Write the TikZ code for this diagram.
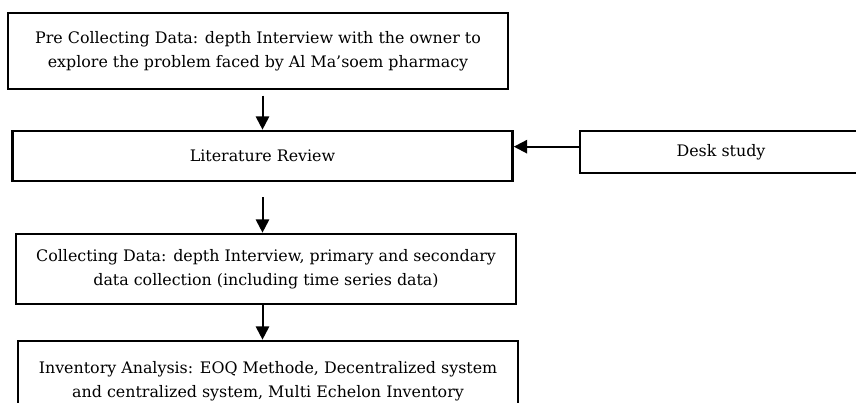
\documentclass[tikz,border=0pt]{standalone}
\usepackage{fontspec}
\setmainfont{DejaVu Serif}
\usetikzlibrary{arrows.meta,positioning}
\tikzset{flow/.style={-{Triangle[length=10pt,width=10pt]}, line width=1.5pt},
  stage/.style={draw, line width=2pt, align=center, minimum width=375pt,
    font=\fontsize{11.9}{18}\selectfont}}

\begin{document}
\begin{tikzpicture}[x=0.75pt,y=-0.75pt]
  \useasboundingbox (0,0) rectangle (856,403);
  % main column of steps
  \node[stage, minimum height=57pt] (pre) at (258,51)
    {Pre Collecting Data: depth Interview with the owner to\\explore the problem faced by Al Ma'soem pharmacy};
  \node[stage, minimum height=37.5pt] (lit) at (262.5,156) {Literature Review};
  \node[stage, minimum height=52.5pt] (col) at (266,269)
    {Collecting Data: depth Interview, primary and secondary\\data collection (including time series data)};
  \node[stage, minimum height=60pt] (inv) at (268,381)
    {Inventory Analysis: EOQ Methode, Decentralized system\\and centralized system, Multi Echelon Inventory};
  % side input
  \node[stage, minimum width=211.5pt, minimum height=31.5pt] (desk) at (721,152) {Desk study};
  % arrows down the column
  \draw[flow] (pre.south -| lit.north) ++(0,-4pt) -- (lit.north);
  \draw[flow] (lit.south) ++(0,-11pt) -- (col.north -| lit.south);
  \draw[flow] (col.south -| lit.south) -- (inv.north -| lit.south);
  \coordinate (ds) at ([yshift=4pt]desk.west);
  \draw[flow] (ds) -- (ds -| lit.east);
\end{tikzpicture}
\end{document}
